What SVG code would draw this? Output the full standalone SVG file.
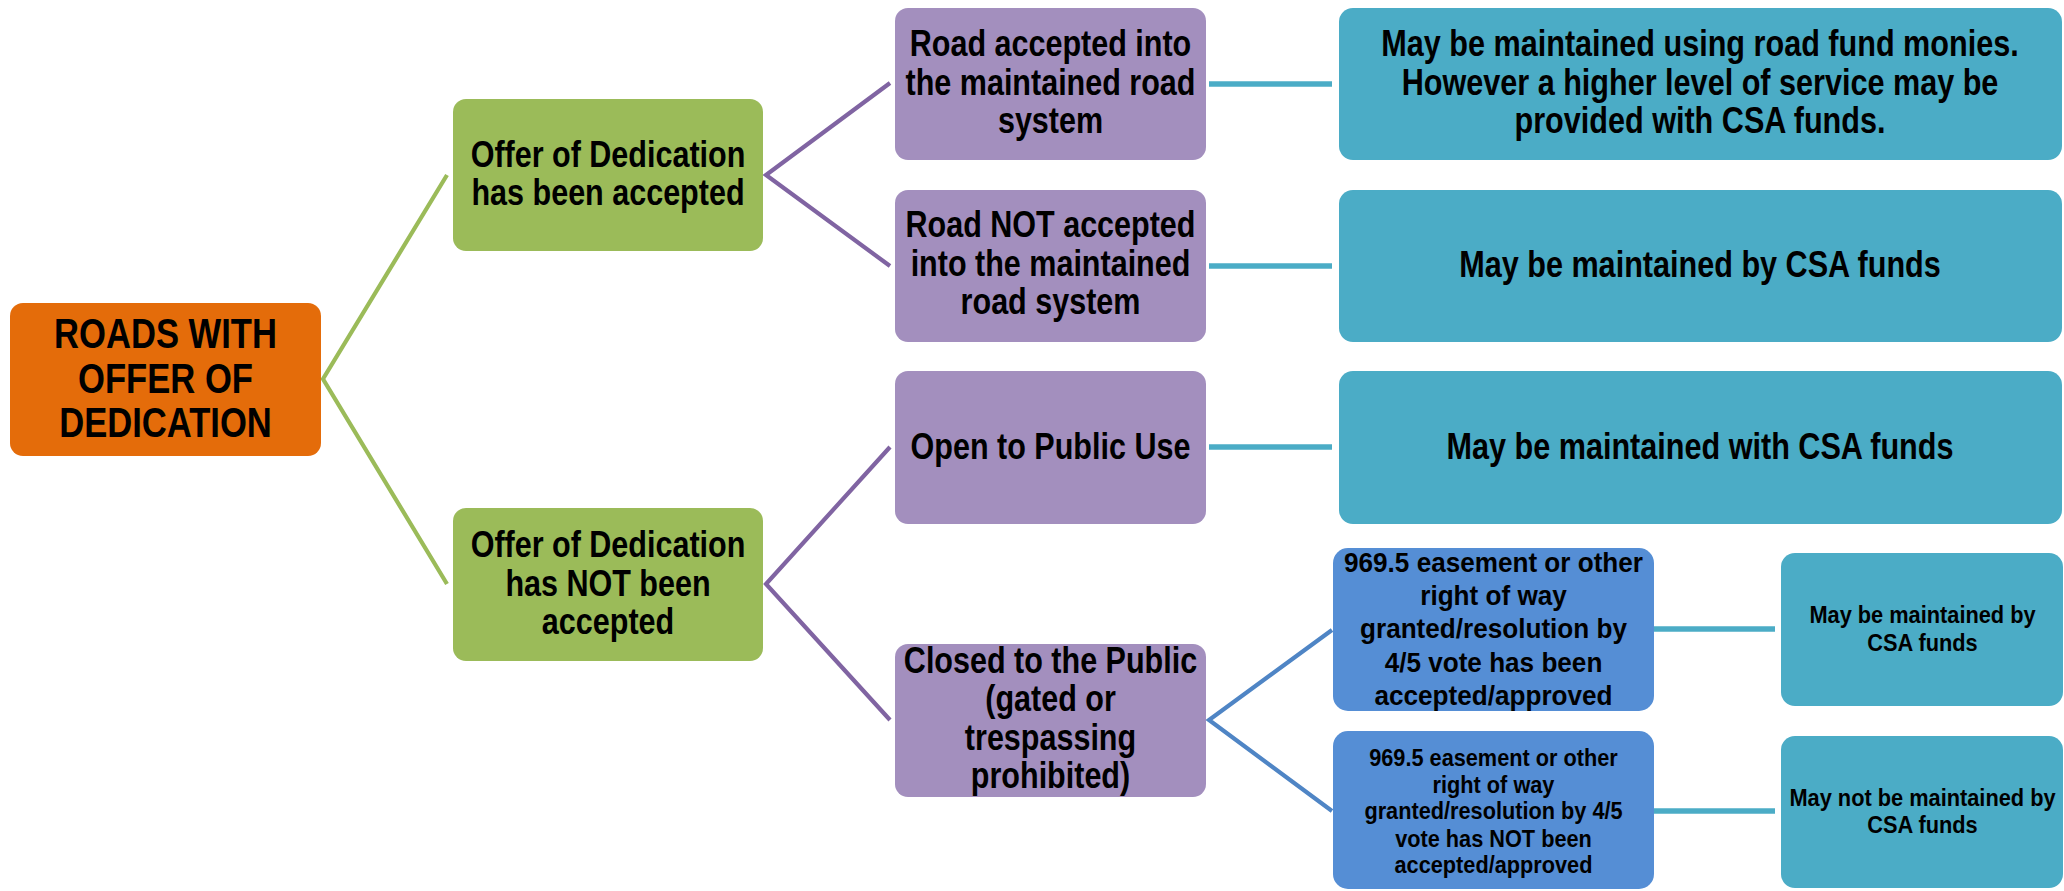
<svg xmlns="http://www.w3.org/2000/svg" width="2064" height="891" viewBox="0 0 2064 891">
  <style>
    text { font-family: "Liberation Sans", Arial, sans-serif; font-weight: bold; fill: #000; text-anchor: middle; }
    .t42 { font-size: 42px; }
    .t37 { font-size: 37px; }
    .t28 { font-size: 28px; }
    .t245 { font-size: 24.5px; }
    .t24 { font-size: 24px; }
    .root { fill: #E46C0A; }
    .lvl1 { fill: #9BBB59; }
    .lvl2 { fill: #A38FBE; }
    .res { fill: #4BACC6; }
    .lvl3 { fill: #558ED5; }
    .c-green { stroke: #9BBB59; stroke-width: 4.2; fill: none; }
    .c-purple { stroke: #8064A2; stroke-width: 4.2; fill: none; }
    .c-blue { stroke: #4F85C5; stroke-width: 4.2; fill: none; }
    .c-teal { stroke: #4BACC6; stroke-width: 5.5; fill: none; }
  </style>

  <!-- connectors -->
  <g id="connectors">
    <polyline class="c-green" points="447,175 323,379 447,584"/>
    <polyline class="c-purple" points="890,83 766,175 890,266"/>
    <polyline class="c-purple" points="890,447 766,584 890,720"/>
    <polyline class="c-blue" points="1332,630 1209,720 1332,811"/>
    <line class="c-teal" x1="1209" y1="84" x2="1332" y2="84"/>
    <line class="c-teal" x1="1209" y1="266" x2="1332" y2="266"/>
    <line class="c-teal" x1="1209" y1="447" x2="1332" y2="447"/>
    <line class="c-teal" x1="1654" y1="629" x2="1775" y2="629"/>
    <line class="c-teal" x1="1654" y1="811" x2="1775" y2="811"/>
  </g>

  <g id="roads-with-offer">
    <rect class="root" x="10" y="303" width="311" height="153" rx="13"/>
    <g transform="translate(165.5 0) scale(0.824 1)">
      <text class="t42" x="0" y="348">ROADS WITH</text>
      <text class="t42" x="0" y="393">OFFER OF</text>
      <text class="t42" x="0" y="437">DEDICATION</text>
    </g>
  </g>

  <g id="offer-accepted">
    <rect class="lvl1" x="453" y="99" width="310" height="152" rx="13"/>
    <g transform="translate(608 0) scale(0.825 1)">
      <text class="t37" x="0" y="167">Offer of Dedication</text>
      <text class="t37" x="0" y="205">has been accepted</text>
    </g>
  </g>

  <g id="offer-not-accepted">
    <rect class="lvl1" x="453" y="508" width="310" height="153" rx="13"/>
    <g transform="translate(608 0) scale(0.825 1)">
      <text class="t37" x="0" y="557">Offer of Dedication</text>
      <text class="t37" x="0" y="596">has NOT been</text>
      <text class="t37" x="0" y="634">accepted</text>
    </g>
  </g>

  <g id="road-accepted">
    <rect class="lvl2" x="895" y="8" width="311" height="152" rx="13"/>
    <g transform="translate(1050.5 0) scale(0.825 1)">
      <text class="t37" x="0" y="56.5">Road accepted into</text>
      <text class="t37" x="0" y="95">the maintained road</text>
      <text class="t37" x="0" y="133.5">system</text>
    </g>
  </g>

  <g id="road-not-accepted">
    <rect class="lvl2" x="895" y="190" width="311" height="152" rx="13"/>
    <g transform="translate(1050.5 0) scale(0.825 1)">
      <text class="t37" x="0" y="237.5">Road NOT accepted</text>
      <text class="t37" x="0" y="276">into the maintained</text>
      <text class="t37" x="0" y="314.5">road system</text>
    </g>
  </g>

  <g id="open-to-public">
    <rect class="lvl2" x="895" y="371" width="311" height="153" rx="13"/>
    <g transform="translate(1050.5 0) scale(0.825 1)">
      <text class="t37" x="0" y="459">Open to Public Use</text>
    </g>
  </g>

  <g id="closed-to-public">
    <rect class="lvl2" x="895" y="644" width="311" height="153" rx="13"/>
    <g transform="translate(1050.5 0) scale(0.825 1)">
      <text class="t37" x="0" y="673">Closed to the Public</text>
      <text class="t37" x="0" y="711.5">(gated or</text>
      <text class="t37" x="0" y="750">trespassing</text>
      <text class="t37" x="0" y="788.5">prohibited)</text>
    </g>
  </g>

  <g id="road-fund">
    <rect class="res" x="1339" y="8" width="723" height="152" rx="14"/>
    <g transform="translate(1700 0) scale(0.827 1)">
      <text class="t37" x="0" y="56.5">May be maintained using road fund monies.</text>
      <text class="t37" x="0" y="95">However a higher level of service may be</text>
      <text class="t37" x="0" y="133.5">provided with CSA funds.</text>
    </g>
  </g>

  <g id="csa-by">
    <rect class="res" x="1339" y="190" width="723" height="152" rx="14"/>
    <g transform="translate(1700 0) scale(0.827 1)">
      <text class="t37" x="0" y="277">May be maintained by CSA funds</text>
    </g>
  </g>

  <g id="csa-with">
    <rect class="res" x="1339" y="371" width="723" height="153" rx="14"/>
    <g transform="translate(1700 0) scale(0.827 1)">
      <text class="t37" x="0" y="459">May be maintained with CSA funds</text>
    </g>
  </g>

  <g id="easement-approved">
    <rect class="lvl3" x="1333" y="548" width="321" height="163" rx="15"/>
    <g transform="translate(1493.5 0) scale(0.933 1)">
      <text class="t28" x="0" y="572">969.5 easement or other</text>
      <text class="t28" x="0" y="605">right of way</text>
      <text class="t28" x="0" y="638.5">granted/resolution by</text>
      <text class="t28" x="0" y="672">4/5 vote has been</text>
      <text class="t28" x="0" y="705">accepted/approved</text>
    </g>
  </g>

  <g id="easement-not-approved">
    <rect class="lvl3" x="1333" y="731" width="321" height="158" rx="15"/>
    <g transform="translate(1493.5 0) scale(0.887 1)">
      <text class="t245" x="0" y="766">969.5 easement or other</text>
      <text class="t245" x="0" y="793">right of way</text>
      <text class="t245" x="0" y="819.5">granted/resolution by 4/5</text>
      <text class="t245" x="0" y="847">vote has NOT been</text>
      <text class="t245" x="0" y="873.5">accepted/approved</text>
    </g>
  </g>

  <g id="csa-may">
    <rect class="res" x="1781" y="553" width="282" height="153" rx="14"/>
    <g transform="translate(1922.5 0) scale(0.907 1)">
      <text class="t24" x="0" y="623">May be maintained by</text>
      <text class="t24" x="0" y="651">CSA funds</text>
    </g>
  </g>

  <g id="csa-may-not">
    <rect class="res" x="1781" y="736" width="282" height="152" rx="14"/>
    <g transform="translate(1922.5 0) scale(0.907 1)">
      <text class="t24" x="0" y="806">May not be maintained by</text>
      <text class="t24" x="0" y="833.5">CSA funds</text>
    </g>
  </g>
</svg>
